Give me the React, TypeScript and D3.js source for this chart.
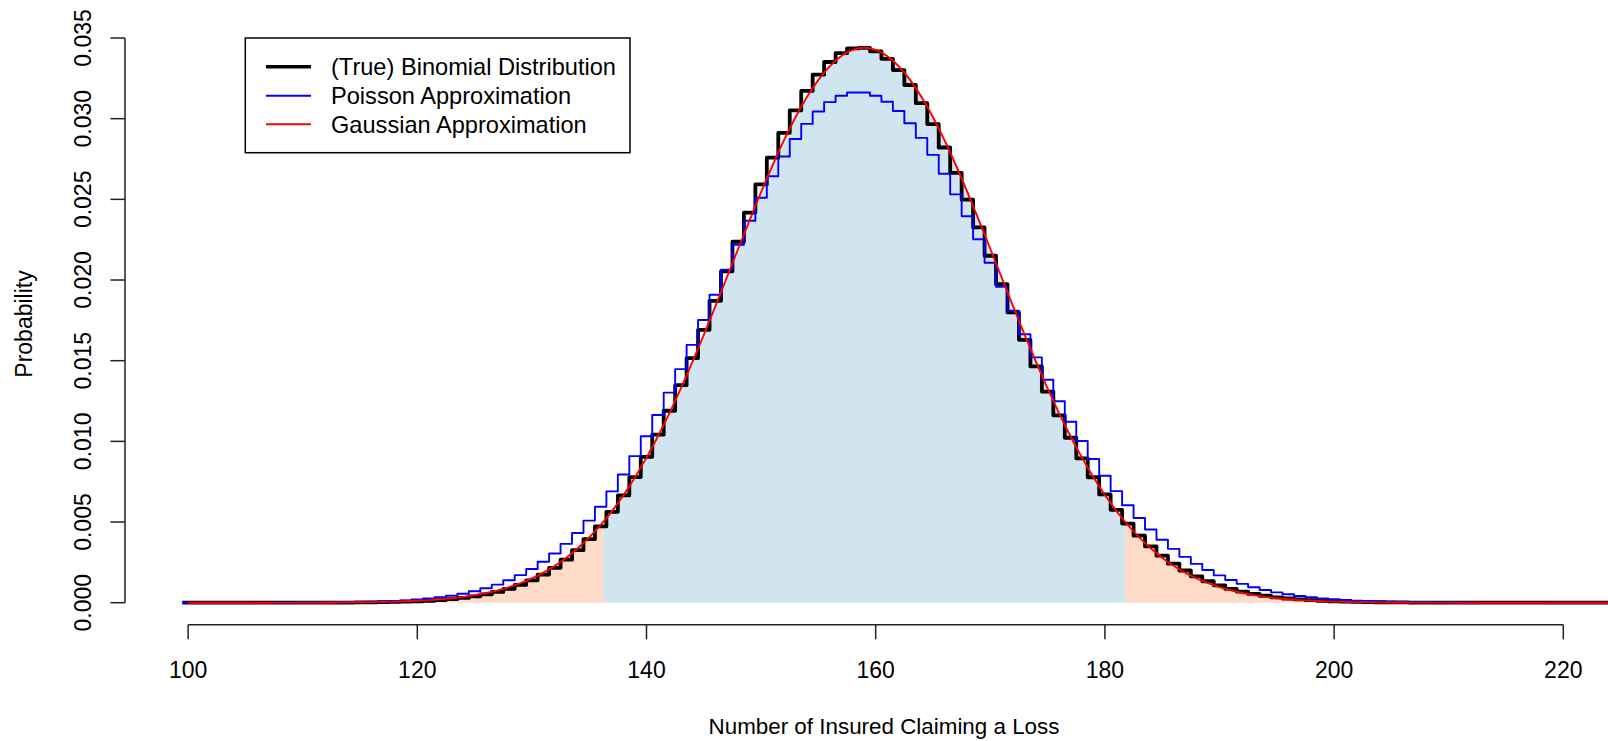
import React from "react";
import * as d3 from "d3";

// Number of insured claiming a loss: k = 100 ... 224
const firstCount = 100;

// (True) Binomial probabilities, k = 100..224
const binomial = [
  0, 0, 0, 0, 0, 0, 0.000001, 0.000001, 0.000001, 0.000001,
  0.000002, 0.000003, 0.000005, 0.000007, 0.00001, 0.000015, 0.000022, 0.000031, 0.000045, 0.000063,
  0.000087, 0.00012, 0.000164, 0.000222, 0.000296, 0.000393, 0.000514, 0.000669, 0.00086, 0.001099,
  0.001389, 0.001741, 0.002163, 0.002664, 0.003253, 0.003938, 0.004728, 0.00563, 0.006647, 0.007784,
  0.009039, 0.010412, 0.011897, 0.013484, 0.015161, 0.01691, 0.018711, 0.020541, 0.022373, 0.024177,
  0.025924, 0.027583, 0.029121, 0.030509, 0.031719, 0.032727, 0.033512, 0.034058, 0.034352, 0.034392,
  0.034176, 0.033712, 0.03301, 0.032087, 0.030963, 0.029663, 0.028213, 0.026643, 0.024982, 0.023259,
  0.021503, 0.019741, 0.017997, 0.016294, 0.014651, 0.013084, 0.011605, 0.010224, 0.008947, 0.007776,
  0.006713, 0.005758, 0.004906, 0.004152, 0.003491, 0.002916, 0.002419, 0.001995, 0.001633, 0.001329,
  0.001074, 0.000863, 0.000688, 0.000545, 0.00043, 0.000336, 0.00026, 0.000202, 0.000155, 0.000117,
  0.000089, 0.000067, 0.00005, 0.000037, 0.000027, 0.000019, 0.000014, 0.00001, 0.000007, 0.000005,
  0.000004, 0.000003, 0.000002, 0.000001, 0.000001, 0.000001, 0, 0, 0, 0,
  0, 0, 0, 0, 0,
];

// Poisson approximation, k = 100..224
const poisson = [
  0, 0, 0, 0.000001, 0.000001, 0.000001, 0.000002, 0.000003, 0.000004, 0.000005,
  0.000008, 0.000011, 0.000016, 0.000023, 0.000032, 0.000041, 0.000058, 0.000079, 0.000108, 0.000145,
  0.000194, 0.000256, 0.000334, 0.000433, 0.000556, 0.000708, 0.000893, 0.001118, 0.001389, 0.001711,
  0.002091, 0.002536, 0.003053, 0.003647, 0.004324, 0.00509, 0.005947, 0.006899, 0.007945, 0.009085,
  0.010315, 0.011629, 0.013019, 0.014474, 0.015981, 0.017525, 0.019086, 0.020646, 0.022183, 0.023675,
  0.0251, 0.026434, 0.027658, 0.028743, 0.029676, 0.030442, 0.031027, 0.031422, 0.031621, 0.031621,
  0.031423, 0.031048, 0.030471, 0.02972, 0.028811, 0.027759, 0.026585, 0.025307, 0.023948, 0.022528,
  0.021067, 0.019587, 0.018105, 0.016639, 0.015204, 0.013815, 0.012482, 0.011214, 0.010019, 0.008902,
  0.007866, 0.006913, 0.006042, 0.005252, 0.004541, 0.003904, 0.003339, 0.002841, 0.002404, 0.002023,
  0.001693, 0.00141, 0.001167, 0.000961, 0.000788, 0.000642, 0.00052, 0.000419, 0.000336, 0.000268,
  0.000212, 0.000167, 0.000131, 0.000102, 0.000081, 0.000063, 0.000049, 0.000037, 0.000028, 0.000021,
  0.000016, 0.000012, 0.000009, 0.000007, 0.000005, 0.000004, 0.000003, 0.000002, 0.000002, 0.000001,
  0.000001, 0.000001, 0.000001, 0, 0,
];

// Gaussian approximation density at k = 100..224
const gaussian = [
  0, 0, 0, 0, 0, 0, 0.000001, 0.0000015, 0.0000022, 0.0000032,
  0.0000046, 0.0000066, 0.0000094, 0.0000132, 0.0000186, 0.0000258, 0.0000357, 0.000049, 0.000067, 0.00009,
  0.000121, 0.000161, 0.000212, 0.000279, 0.000363, 0.000469, 0.000601, 0.000766, 0.000967, 0.001214,
  0.001511, 0.001868, 0.002291, 0.00279, 0.003372, 0.004045, 0.004817, 0.005694, 0.00668, 0.00778,
  0.008993, 0.010318, 0.011751, 0.013284, 0.014906, 0.016602, 0.018354, 0.020141, 0.021938, 0.023718,
  0.025453, 0.027113, 0.028667, 0.030086, 0.031341, 0.032407, 0.033261, 0.033885, 0.034264, 0.034392,
  0.034264, 0.033885, 0.033261, 0.032407, 0.031341, 0.030086, 0.028667, 0.027113, 0.025453, 0.023718,
  0.021938, 0.020141, 0.018354, 0.016602, 0.014906, 0.013284, 0.011751, 0.010318, 0.008993, 0.00778,
  0.00668, 0.005694, 0.004817, 0.004045, 0.003372, 0.00279, 0.002291, 0.001868, 0.001511, 0.001214,
  0.000967, 0.000766, 0.000601, 0.000469, 0.000363, 0.000279, 0.000212, 0.000161, 0.000121, 0.00009,
  0.000067, 0.000049, 0.0000357, 0.0000258, 0.0000186, 0.0000132, 0.0000094, 0.0000066, 0.0000046, 0.0000032,
  0.0000022, 0.0000015, 0.000001, 0, 0, 0, 0, 0, 0, 0,
  0, 0, 0, 0, 0,
];

// 95% interval bounds of the Gaussian approximation
const intervalBounds = [136.27, 181.76];

const xTicks = [100, 120, 140, 160, 180, 200, 220];
const yTicks = [0, 0.005, 0.01, 0.015, 0.02, 0.025, 0.03, 0.035];
const yTickLabels = ["0.000", "0.005", "0.010", "0.015", "0.020", "0.025", "0.030", "0.035"];

const legendLabels = [
  "(True) Binomial Distribution",
  "Poisson Approximation",
  "Gaussian Approximation",
];
const seriesColors = ["#000000", "#0000FF", "#FF0000"];
const seriesWidths = [3.8, 1.9, 1.9];
const legendWidths = [3.6, 1.9, 1.9];
const xLabel = "Number of Insured Claiming a Loss";
const yLabel = "Probability";

const FONT = "'Liberation Sans', Arial, Helvetica, sans-serif";

export default function App() {
  const W = 1608;
  const H = 741;
  const x = d3.scaleLinear().domain([100, 220]).range([188.1, 1563.3]);
  const y = d3.scaleLinear().domain([0, 0.035]).range([602.7, 38]);
  const xAxisY = 624.7;
  const yAxisX = 125;
  const fs = 23;

  const counts = binomial.map((_, i) => firstCount + i);
  const lastCount = counts[counts.length - 1];

  const stepPoints = (vals: number[]) => {
    const pts: [number, number][] = vals.map((v, i) => [counts[i] - 0.5, v]);
    pts.push([lastCount + 0.5, vals[vals.length - 1]]);
    return pts;
  };

  const stepLine = d3
    .line<[number, number]>()
    .x((d) => x(d[0]))
    .y((d) => y(d[1]))
    .curve(d3.curveStepAfter);

  const gaussPts: [number, number][] = gaussian.map((v, i) => [counts[i], v]);
  const smoothLine = d3
    .line<[number, number]>()
    .x((d) => x(d[0]))
    .y((d) => y(d[1]))
    .curve(d3.curveNatural);
  const smoothArea = d3
    .area<[number, number]>()
    .x((d) => x(d[0]))
    .y0(y(0))
    .y1((d) => y(d[1]))
    .curve(d3.curveNatural);

  const xa = x(firstCount);
  const xb = x(intervalBounds[0]);
  const xc = x(intervalBounds[1]);
  const xd = x(lastCount);

  const areaPath = smoothArea(gaussPts) || "";

  const legX = 245.3;
  const legY = 38;
  const legW = 384.7;
  const legH = 114.7;
  const rowYs = [66.7, 95.7, 124.3];

  return (
    <svg
      width={W}
      height={H}
      viewBox={`0 0 ${W} ${H}`}
      style={{ position: "absolute", left: 0, top: 0, background: "#fff" }}
      fontFamily={FONT}
    >
      <defs>
        <clipPath id="clipLeft">
          <rect x={xa - 2} y={0} width={xb - xa + 2} height={H} />
        </clipPath>
        <clipPath id="clipMid">
          <rect x={xb} y={0} width={xc - xb} height={H} />
        </clipPath>
        <clipPath id="clipRight">
          <rect x={xc} y={0} width={xd - xc + 2} height={H} />
        </clipPath>
      </defs>
      <rect x={0} y={0} width={W} height={H} fill="#ffffff" />

      {/* shaded Gaussian areas */}
      <path d={areaPath} fill="#FDDBC7" clipPath="url(#clipLeft)" />
      <path d={areaPath} fill="#D1E5F0" clipPath="url(#clipMid)" />
      <path d={areaPath} fill="#FDDBC7" clipPath="url(#clipRight)" />

      {/* series */}
      <path
        d={stepLine(stepPoints(binomial)) || ""}
        fill="none"
        stroke={seriesColors[0]}
        strokeWidth={seriesWidths[0]}
        strokeLinejoin="round"
      />
      <path
        d={stepLine(stepPoints(poisson)) || ""}
        fill="none"
        stroke={seriesColors[1]}
        strokeWidth={seriesWidths[1]}
        strokeLinejoin="round"
      />
      <path
        d={smoothLine(gaussPts) || ""}
        fill="none"
        stroke={seriesColors[2]}
        strokeWidth={seriesWidths[2]}
        strokeLinejoin="round"
      />

      {/* x axis */}
      <line
        x1={x(xTicks[0])}
        x2={x(xTicks[xTicks.length - 1])}
        y1={xAxisY}
        y2={xAxisY}
        stroke="#222"
        strokeWidth={1.5}
      />
      {xTicks.map((t) => (
        <g key={`xt${t}`}>
          <line x1={x(t)} x2={x(t)} y1={xAxisY} y2={xAxisY + 14.6} stroke="#222" strokeWidth={1.5} />
          <text x={x(t)} y={677.5} textAnchor="middle" fontSize={fs} fill="#000">
            {t}
          </text>
        </g>
      ))}

      {/* y axis */}
      <line
        x1={yAxisX}
        x2={yAxisX}
        y1={y(yTicks[0])}
        y2={y(yTicks[yTicks.length - 1])}
        stroke="#222"
        strokeWidth={1.5}
      />
      {yTicks.map((t, i) => (
        <g key={`yt${i}`}>
          <line x1={yAxisX - 14.6} x2={yAxisX} y1={y(t)} y2={y(t)} stroke="#222" strokeWidth={1.5} />
          <text
            transform={`translate(90.7, ${y(t)}) rotate(-90)`}
            textAnchor="middle"
            fontSize={fs}
            fill="#000"
          >
            {yTickLabels[i]}
          </text>
        </g>
      ))}

      {/* axis titles */}
      <text x={884} y={734} textAnchor="middle" fontSize={22.4} fill="#000">
        {xLabel}
      </text>
      <text transform={`translate(32, 324) rotate(-90)`} textAnchor="middle" fontSize={fs} fill="#000">
        {yLabel}
      </text>

      {/* legend */}
      <rect x={legX} y={legY} width={legW} height={legH} fill="#fff" stroke="#000" strokeWidth={1.5} />
      {legendLabels.map((lab, i) => (
        <g key={`lg${i}`}>
          <line
            x1={266}
            x2={311}
            y1={rowYs[i]}
            y2={rowYs[i]}
            stroke={seriesColors[i]}
            strokeWidth={legendWidths[i]}
          />
          <text x={331} y={rowYs[i] + 8.6} fontSize={23.6} fill="#000">
            {lab}
          </text>
        </g>
      ))}
    </svg>
  );
}
